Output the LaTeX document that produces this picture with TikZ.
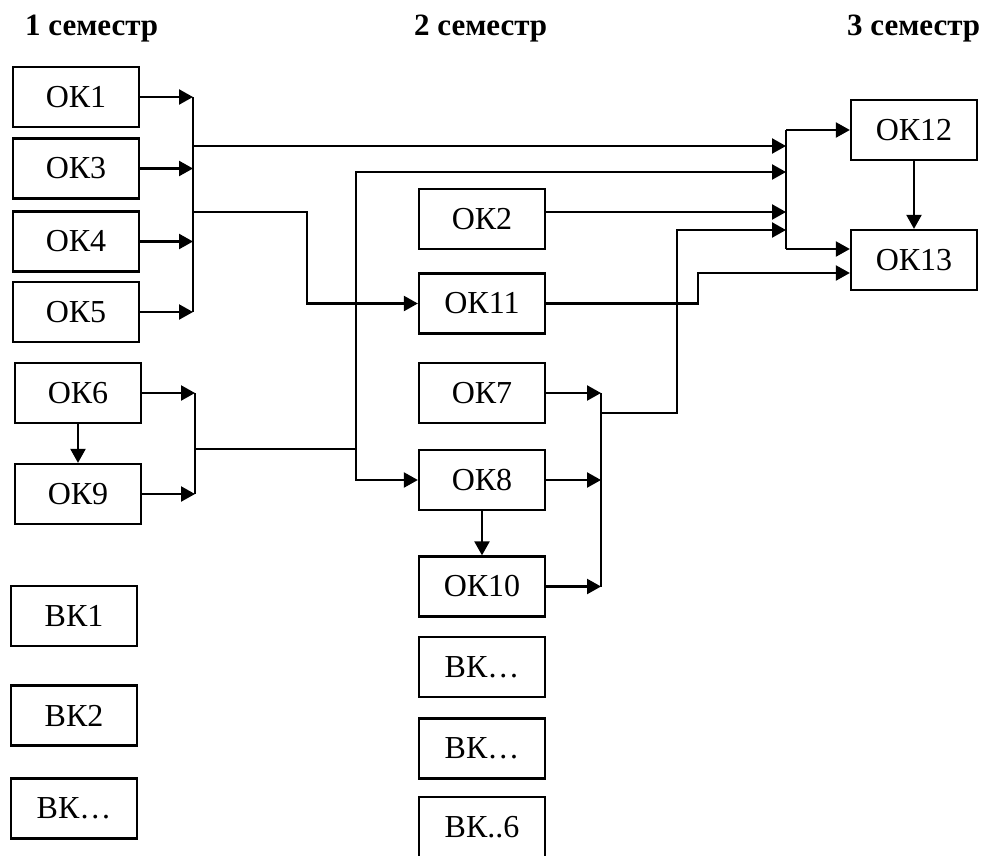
\documentclass[tikz,border=0pt]{standalone}
\usepackage{fontspec}
\setmainfont{Liberation Serif}
\usetikzlibrary{arrows.meta}
\begin{document}
\begin{tikzpicture}[x=1pt, y=-1pt, line width=2.3pt,
  box/.style={draw, minimum width=126pt, minimum height=60pt, inner sep=0pt, font=\fontsize{32}{38}\selectfont},
  sem/.style={anchor=base west, inner sep=0pt, font=\fontsize{31}{37}\selectfont\bfseries},
  arr/.style={-{Triangle[length=14pt, width=15pt]}}]
\useasboundingbox (0,0) rectangle (989,855);

\node (sem1) at (24,35) [sem] {1 семестр};
\node (sem2) at (413,35) [sem] {2 семестр};
\node (sem3) at (846,35) [sem] {3 семестр};

\node (ok1) at (76,97) [box] {ОК1};
\node (ok3) at (76,168.5) [box] {ОК3};
\node (ok4) at (76,241.5) [box] {ОК4};
\node (ok5) at (76,312) [box] {ОК5};
\node (ok6) at (78,393) [box] {ОК6};
\node (ok9) at (78,494) [box] {ОК9};
\node (vk1) at (74,616) [box] {ВК1};
\node (vk2) at (74,715.5) [box] {ВК2};
\node (vk3) at (74,808.5) [box] {ВК…};

\node (ok2) at (482,219) [box] {ОК2};
\node (ok11) at (482,303.5) [box] {ОК11};
\node (ok7) at (482,393) [box] {ОК7};
\node (ok8) at (482,480) [box] {ОК8};
\node (ok10) at (482,586.5) [box] {ОК10};
\node (vk4) at (482,667) [box] {ВК…};
\node (vk5) at (482,748.5) [box] {ВК…};
\node (vk6) at (482,827) [box] {ВК..6};

\node (ok12) at (914,130) [box] {ОК12};
\node (ok13) at (914,260) [box] {ОК13};

\coordinate (busA) at (193,0);
\coordinate (busB) at (195,0);
\coordinate (busC) at (786,0);
\coordinate (busD) at (601,0);

\draw[arr] (ok1) -- (ok1 -| busA);
\draw[arr] (ok3) -- (ok3 -| busA);
\draw[arr] (ok4) -- (ok4 -| busA);
\draw[arr] (ok5) -- (ok5 -| busA);
\draw (ok1 -| busA) -- (ok5 -| busA);

\coordinate (a1) at (193,146);
\coordinate (a2) at (193,212);
\coordinate (c1) at (786,146);
\coordinate (c2) at (786,172);
\coordinate (c3) at (786,212);
\coordinate (c4) at (786,230);
\coordinate (c5) at (786,249);
\draw[arr] (a1) -- (c1);
\draw[arr] (a2) -- (307,212) |- (ok11);

\draw[arr] (ok6) -- (ok9);
\draw[arr] (ok6) -- (ok6 -| busB);
\draw[arr] (ok9) -- (ok9 -| busB);
\draw (ok6 -| busB) -- (ok9 -| busB);

\coordinate (b1) at (195,449);
\coordinate (b2) at (356,449);
\draw (b1) -- (b2);
\draw[arr] (b2) |- (c2);
\draw[arr] (b2) |- (ok8);

\draw[arr] (ok2.east |- c3) -- (c3);
\draw[arr] (ok11) -- (698,303.5) |- ([yshift=-13pt]ok13.west);

\draw[arr] (ok8) -- (ok10);
\draw[arr] (ok7) -- (ok7 -| busD);
\draw[arr] (ok8) -- (ok8 -| busD);
\draw[arr] (ok10) -- (ok10 -| busD);
\draw (ok7 -| busD) -- (ok10 -| busD);

\coordinate (d1) at (601,413);
\draw[arr] (d1) -- (677,413) |- (c4);

\draw (ok12 -| busC) -- (c5);
\draw[arr] (ok12 -| busC) -- (ok12);
\draw[arr] (c5) -- (c5 -| ok13.west);
\draw[arr] (ok12) -- (ok13);
\end{tikzpicture}
\end{document}
